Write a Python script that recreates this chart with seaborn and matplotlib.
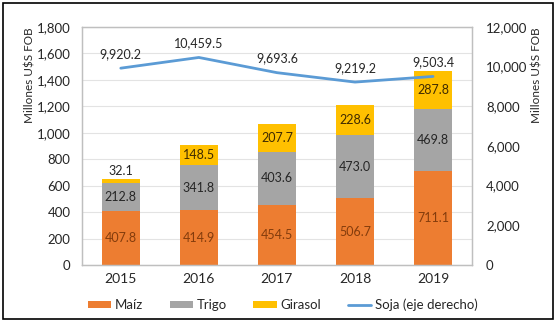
import matplotlib
matplotlib.use("Agg")
import matplotlib.pyplot as plt
from matplotlib.patches import Rectangle
import seaborn as sns
import pandas as pd
import numpy as np

years = ["2015", "2016", "2017", "2018", "2019"]
maiz = [407.8, 414.9, 454.5, 506.7, 711.1]
trigo = [212.8, 341.8, 403.6, 473.0, 469.8]
girasol = [32.1, 148.5, 207.7, 228.6, 287.8]
soja = [9920.2, 10459.5, 9693.6, 9219.2, 9503.4]

c_maiz = "#ED7D31"
c_trigo = "#A5A5A5"
c_gira = "#FFC000"
c_soja = "#5B9BD5"

sns.set_theme(style="white")
plt.rcParams["font.family"] = ["Lato", "DejaVu Sans"]

df = pd.DataFrame({"year": years, "maiz": maiz, "trigo": trigo,
                   "girasol": girasol, "soja": soja})
df["mt"] = df["maiz"] + df["trigo"]
df["total"] = df["mt"] + df["girasol"]

fig = plt.figure(figsize=(5.6, 3.28), dpi=100)
ax = fig.add_axes([0.146, 0.192, 0.697, 0.726])

bw = 0.49
for col, color, lab in [("total", c_gira, "Girasol"), ("mt", c_trigo, "Trigo"),
                        ("maiz", c_maiz, "Maíz")]:
    sns.barplot(data=df, x="year", y=col, color=color, width=bw,
                saturation=1, linewidth=0, ax=ax, label=lab)

ax.set_ylim(0, 1800)
ax.set_yticks(range(0, 1801, 200))
ax.set_yticklabels([f"{v:,}" for v in range(0, 1801, 200)], fontsize=9.5)
ax.set_xlim(-0.5, 4.5)
ax.tick_params(axis="x", labelsize=10, pad=6, length=0)
ax.tick_params(axis="y", length=0, pad=8)
ax.set_xlabel("")
ax.set_ylabel("Millones U$S FOB", fontsize=8.5, labelpad=1, loc="top")
ax.yaxis.grid(True, color="#E3E3E3", linewidth=0.8)
ax.set_axisbelow(True)
for s in ax.spines.values():
    s.set_color("#BFBFBF")
    s.set_linewidth(0.9)

for i in range(len(years)):
    ax.text(i, maiz[i] / 2, f"{maiz[i]:.1f}", ha="center", va="center",
            fontsize=9, color="#843C0C")
    ax.text(i, maiz[i] + trigo[i] / 2, f"{trigo[i]:.1f}", ha="center",
            va="center", fontsize=9, color="#262626")
    if girasol[i] < 80:
        ax.text(i, maiz[i] + trigo[i] + girasol[i] + 12, f"{girasol[i]:.1f}",
                ha="center", va="bottom", fontsize=9, color="#262626")
    else:
        ax.text(i, maiz[i] + trigo[i] + girasol[i] / 2, f"{girasol[i]:.1f}",
                ha="center", va="center", fontsize=9, color="#3F2A00")

ax2 = ax.twinx()
sns.lineplot(x=np.arange(len(years)), y=soja, color=c_soja, linewidth=2,
             ax=ax2, label="Soja (eje derecho)")
ax2.set_ylim(0, 12000)
ax2.set_yticks(range(0, 12001, 2000))
ax2.set_yticklabels([f"{v:,}" for v in range(0, 12001, 2000)], fontsize=9.5)
ax2.tick_params(axis="y", length=0, pad=10)
ax2.set_ylabel("Millones U$S FOB", fontsize=8.5, labelpad=3, loc="top")
ax2.grid(False)
for s in ax2.spines.values():
    s.set_color("#BFBFBF")
    s.set_linewidth(0.9)
for i, v in enumerate(soja):
    ax2.annotate(f"{v:,.1f}", (i, v), xytext=(0, 6), textcoords="offset points",
                 ha="center", va="bottom", fontsize=9, color="#262626")

h1, l1 = ax.get_legend_handles_labels()
h2, l2 = ax2.get_legend_handles_labels()
if ax.get_legend():
    ax.get_legend().remove()
if ax2.get_legend():
    ax2.get_legend().remove()
order = {"Maíz": 0, "Trigo": 1, "Girasol": 2}
pairs = sorted(zip(h1, l1), key=lambda p: order[p[1]])
handles = [p[0] for p in pairs] + h2
labels = [p[1] for p in pairs] + l2
fig.legend(handles, labels, loc="center", bbox_to_anchor=(0.505, 0.07),
           ncol=4, frameon=False, fontsize=9.5, handlelength=1.75,
           handleheight=0.5, columnspacing=2.0, handletextpad=0.3)

fig.patches.append(Rectangle((3 / 560, 1 - 319 / 328), 550 / 560, 316 / 328,
                             transform=fig.transFigure, fill=False,
                             edgecolor="black", linewidth=1.2))

fig.savefig("out.png", dpi=100)
